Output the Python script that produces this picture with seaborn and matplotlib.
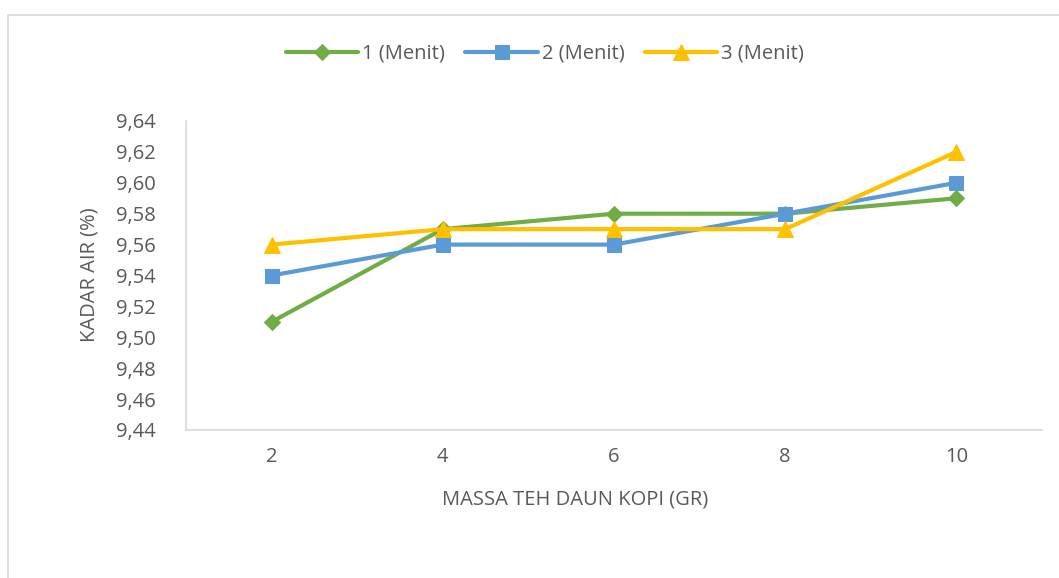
import pandas as pd
import matplotlib.pyplot as plt
import seaborn as sns
from matplotlib.patches import Rectangle

# Data
massa = ["2", "4", "6", "8", "10"]
menit_1 = [9.51, 9.57, 9.58, 9.58, 9.59]
menit_2 = [9.54, 9.56, 9.56, 9.58, 9.60]
menit_3 = [9.56, 9.57, 9.57, 9.57, 9.62]
series_names = ["1 (Menit)", "2 (Menit)", "3 (Menit)"]
y_ticks = [9.44, 9.46, 9.48, 9.50, 9.52, 9.54, 9.56, 9.58, 9.60, 9.62, 9.64]

rows = []
for name, vals in zip(series_names, [menit_1, menit_2, menit_3]):
    for i, (m, v) in enumerate(zip(massa, vals)):
        rows.append({"pos": i, "massa": m, "kadar": v, "seri": name})
df = pd.DataFrame(rows)

sns.set_theme(style="white")
plt.rcParams["font.family"] = ["Open Sans", "DejaVu Sans"]

colors = {"1 (Menit)": "#70AD47", "2 (Menit)": "#5B9BD5", "3 (Menit)": "#FFC000"}
markers = {"1 (Menit)": "D", "2 (Menit)": "s", "3 (Menit)": "^"}
msizes = {"1 (Menit)": 8, "2 (Menit)": 10, "3 (Menit)": 11}
fs = 14.5

fig = plt.figure(figsize=(10.59, 5.78), dpi=100)
ax = fig.add_axes([186 / 1059, 1 - 430 / 578, (1042 - 186) / 1059, (430 - 121) / 578])

for name in series_names:
    sub = df[df["seri"] == name]
    sns.lineplot(data=sub, x="pos", y="kadar", ax=ax, color=colors[name],
                 marker=markers[name], markersize=msizes[name],
                 markeredgecolor=colors[name], linewidth=3, label=name)

ax.set_xlim(-0.5, len(massa) - 0.5)
ax.set_ylim(9.44, 9.64)
ax.set_xticks(range(len(massa)))
ax.set_xticklabels(massa)
ax.set_yticks(y_ticks)
ax.set_yticklabels([f"{t:.2f}".replace(".", ",") for t in y_ticks])
ax.tick_params(axis="both", labelsize=fs, colors="#595959", length=0)
ax.tick_params(axis="x", pad=12)
ax.tick_params(axis="y", pad=22)
ax.set_xlabel("")
ax.set_ylabel("")

for side in ["top", "right"]:
    ax.spines[side].set_visible(False)
for side in ["left", "bottom"]:
    ax.spines[side].set_color("#D9D9D9")
    ax.spines[side].set_linewidth(1.2)

fig.text(90 / 1059, 1 - 275 / 578, "KADAR AIR (%)", rotation=90, ha="center",
         va="center", fontsize=fs, color="#595959")
fig.text(575 / 1059, 1 - 500 / 578, "MASSA TEH DAUN KOPI (GR)", ha="center",
         va="center", fontsize=fs, color="#595959")

ax.get_legend().remove()
handles, labels = ax.get_legend_handles_labels()
fig.legend(handles, labels, loc="center", bbox_to_anchor=(545 / 1059, 1 - 54 / 578),
           ncol=3, frameon=False, fontsize=fs, labelcolor="#595959",
           handlelength=3.6, columnspacing=1.0, handletextpad=0.2)

# outer chart frame
fig.patches.append(Rectangle((8 / 1059, -0.01), 1.02, 1 - 15 / 578 + 0.01,
                             transform=fig.transFigure, fill=False,
                             edgecolor="#D9D9D9", linewidth=1.2))

fig.savefig("out.png", dpi=100)
